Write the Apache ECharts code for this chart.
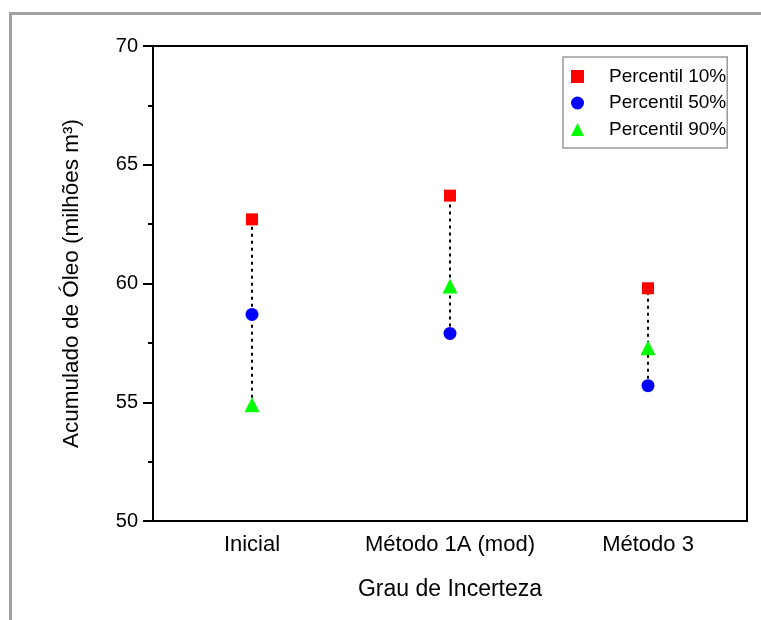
<!DOCTYPE html>
<html>
<head>
<meta charset="utf-8">
<script src="https://cdn.jsdelivr.net/npm/echarts@6/dist/echarts.min.js"></script>
<style>
html,body{margin:0;padding:0;background:#fff;}
#chart{width:761px;height:620px;}
</style>
</head>
<body>
<div id="chart"></div>
<script>
var categories = ['Inicial', 'Método 1A (mod)', 'Método 3'];
var p10 = [62.7, 63.7, 59.8];
var p50 = [58.7, 57.9, 55.7];
var p90 = [54.9, 59.9, 57.3];
var seriesNames = ['Percentil 10%', 'Percentil 50%', 'Percentil 90%'];
var yTicks = [50, 55, 60, 65, 70];

var ranges = categories.map(function (c, i) {
  var vals = [p10[i], p50[i], p90[i]];
  return [i, Math.min.apply(null, vals), Math.max.apply(null, vals)];
});

var FONT = "'Liberation Sans', Arial, Helvetica, sans-serif";
var chart = echarts.init(document.getElementById('chart'), null, {renderer: 'canvas'});
var option = {
  backgroundColor: '#fff',
  animation: false,
  textStyle: {fontFamily: FONT, color: '#000'},
  graphic: [{
    type: 'rect',
    shape: {x: 10.5, y: 13.5, width: 800, height: 700},
    style: {fill: 'none', stroke: '#a0a0a0', lineWidth: 3},
    silent: true, z: -10
  }],
  grid: {left: 153, top: 46, right: 14, bottom: 99},
  legend: {
    orient: 'vertical',
    left: 563, top: 57,
    padding: [10, 1, 9, 8],
    borderColor: '#999',
    borderWidth: 1.5,
    borderRadius: 0,
    itemWidth: 13,
    itemHeight: 13,
    itemGap: 7.5,
    textStyle: {fontSize: 19, lineHeight: 16, fontFamily: FONT, color: '#000', padding: [0, 0, 0, 20]},
    data: [
      {name: seriesNames[0], icon: 'rect'},
      {name: seriesNames[1], icon: 'circle'},
      {name: seriesNames[2], icon: 'triangle'}
    ]
  },
  xAxis: [{
    type: 'category',
    data: categories,
    boundaryGap: true,
    name: 'Grau de Incerteza',
    nameLocation: 'middle',
    nameGap: 57,
    nameTextStyle: {fontSize: 23, fontFamily: FONT, color: '#000'},
    axisLine: {lineStyle: {color: '#000', width: 2}},
    axisTick: {alignWithLabel: true, length: 8, lineStyle: {color: '#000', width: 2}},
    axisLabel: {fontSize: 22, color: '#000', margin: 13, interval: 0, fontFamily: FONT},
    splitLine: {show: false}
  }, {
    type: 'category',
    data: categories,
    position: 'top',
    axisLine: {lineStyle: {color: '#000', width: 2}},
    axisTick: {show: false},
    axisLabel: {show: false},
    splitLine: {show: false}
  }],
  yAxis: [{
    type: 'value',
    min: yTicks[0], max: yTicks[yTicks.length - 1], interval: 5,
    name: 'Acumulado de Óleo (milhões m³)',
    nameLocation: 'middle',
    nameGap: 70,
    nameTextStyle: {fontSize: 22.5, fontFamily: FONT, color: '#000'},
    axisLine: {show: true, lineStyle: {color: '#000', width: 2}},
    axisTick: {show: true, length: 10, lineStyle: {color: '#000', width: 2}},
    minorTick: {show: true, splitNumber: 2, length: 5, lineStyle: {color: '#000', width: 2}},
    axisLabel: {fontSize: 20, color: '#000', margin: 15, fontFamily: FONT},
    splitLine: {show: false}
  }, {
    type: 'value',
    position: 'right',
    min: yTicks[0], max: yTicks[yTicks.length - 1], interval: 5,
    axisLine: {show: true, lineStyle: {color: '#000', width: 2}},
    axisTick: {show: false},
    axisLabel: {show: false},
    splitLine: {show: false}
  }],
  series: [{
    type: 'custom',
    name: 'range',
    z: 1,
    silent: true,
    renderItem: function (params, api) {
      var a = api.coord([api.value(0), api.value(1)]);
      var b = api.coord([api.value(0), api.value(2)]);
      return {
        type: 'line',
        shape: {x1: a[0], y1: a[1], x2: b[0], y2: b[1]},
        style: {stroke: '#000', lineWidth: 2, lineDash: [3, 4]}
      };
    },
    encode: {x: 0, y: [1, 2]},
    data: ranges
  }, {
    type: 'scatter', name: seriesNames[0], symbol: 'rect', symbolSize: 12,
    itemStyle: {color: '#ff0000', opacity: 1}, z: 3, data: p10
  }, {
    type: 'scatter', name: seriesNames[1], symbol: 'circle', symbolSize: 13,
    itemStyle: {color: '#0000ff', opacity: 1}, z: 3, data: p50
  }, {
    type: 'scatter', name: seriesNames[2], symbol: 'triangle', symbolSize: 15,
    itemStyle: {color: '#00ff00', opacity: 1}, z: 3, data: p90
  }]
};
chart.setOption(option);
</script>
</body>
</html>
